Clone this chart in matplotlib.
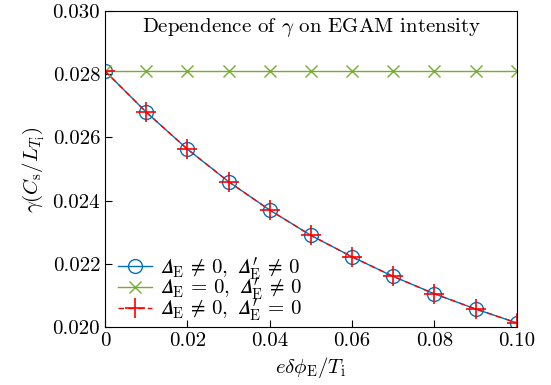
import matplotlib
matplotlib.use('Agg')
import matplotlib.pyplot as plt
from matplotlib.ticker import FormatStrFormatter

plt.rc('font', family='serif', serif=['cmr10'])
plt.rc('mathtext', fontset='cm')
plt.rc('axes', unicode_minus=False)

# data
x = [0.0, 0.01, 0.02, 0.03, 0.04, 0.05, 0.06, 0.07, 0.08, 0.09, 0.10]
gamma_both = [0.02810, 0.02680, 0.02563, 0.02460, 0.02370, 0.02290,
              0.02222, 0.02160, 0.02105, 0.02057, 0.02013]
gamma_noD = [0.02810] * 11
gamma_noDp = [0.02810, 0.02680, 0.02563, 0.02460, 0.02370, 0.02290,
              0.02222, 0.02160, 0.02105, 0.02057, 0.02013]

xticks = [0, 0.02, 0.04, 0.06, 0.08, 0.10]
xticklabels = ['0', '0.02', '0.04', '0.06', '0.08', '0.10']
yticks = [0.020, 0.022, 0.024, 0.026, 0.028, 0.030]

blue = '#0072BD'
green = '#77AC30'
red = '#FF0000'

D = '\U0001D6E5'   # mathematical italic capital delta
NE = r'\,\neq\,'
EQ = r'\,=\,'

fig = plt.figure(figsize=(5.51, 3.85), dpi=100)
ax = fig.add_axes([0.1906, 0.1506, 0.7474, 0.8208])

ax.plot(x, gamma_both, '-', color=blue, lw=1.0, marker='o', ms=10,
        mfc='none', mec=blue, mew=1.0,
        label='$' + D + r'_\mathrm{E}' + NE + r'0,\ ' + D + r'^{\prime}_\mathrm{E}' + NE + '0$')
ax.plot(x, gamma_noD, '-', color=green, lw=1.0, marker='x', ms=9,
        mew=1.0,
        label='$' + D + r'_\mathrm{E}' + EQ + r'0,\ ' + D + r'^{\prime}_\mathrm{E}' + NE + '0$')
ax.plot(x, gamma_noDp, '--', color=red, lw=1.0, marker='+', ms=14,
        mew=1.2, dashes=(4, 3),
        label='$' + D + r'_\mathrm{E}' + NE + r'0,\ ' + D + r'^{\prime}_\mathrm{E}' + EQ + '0$')

ax.set_xlim(0, 0.10)
ax.set_ylim(0.020, 0.030)
ax.set_xticks(xticks)
ax.set_xticklabels(xticklabels)
ax.set_yticks(yticks)
ax.yaxis.set_major_formatter(FormatStrFormatter('%.3f'))
ax.tick_params(direction='in', labelsize=15, length=5, top=False, right=False)

ax.set_xlabel(r'$e\delta\phi_\mathrm{E}/T_\mathrm{i}$', fontsize=15)
ax.set_ylabel(r'$\gamma(C_\mathrm{s}/L_{T_\mathrm{i}})$', fontsize=15)

ax.text(0.5, 0.985, r'Dependence of $\gamma$ on EGAM intensity',
        transform=ax.transAxes, ha='center', va='top', fontsize=15)

ax.legend(loc='lower left', frameon=False, fontsize=15, handlelength=1.6,
          handletextpad=0.4, labelspacing=-0.3, borderaxespad=0.0,
          borderpad=0.2, bbox_to_anchor=(0.022, 0.0))

fig.savefig('out.png', dpi=100)
